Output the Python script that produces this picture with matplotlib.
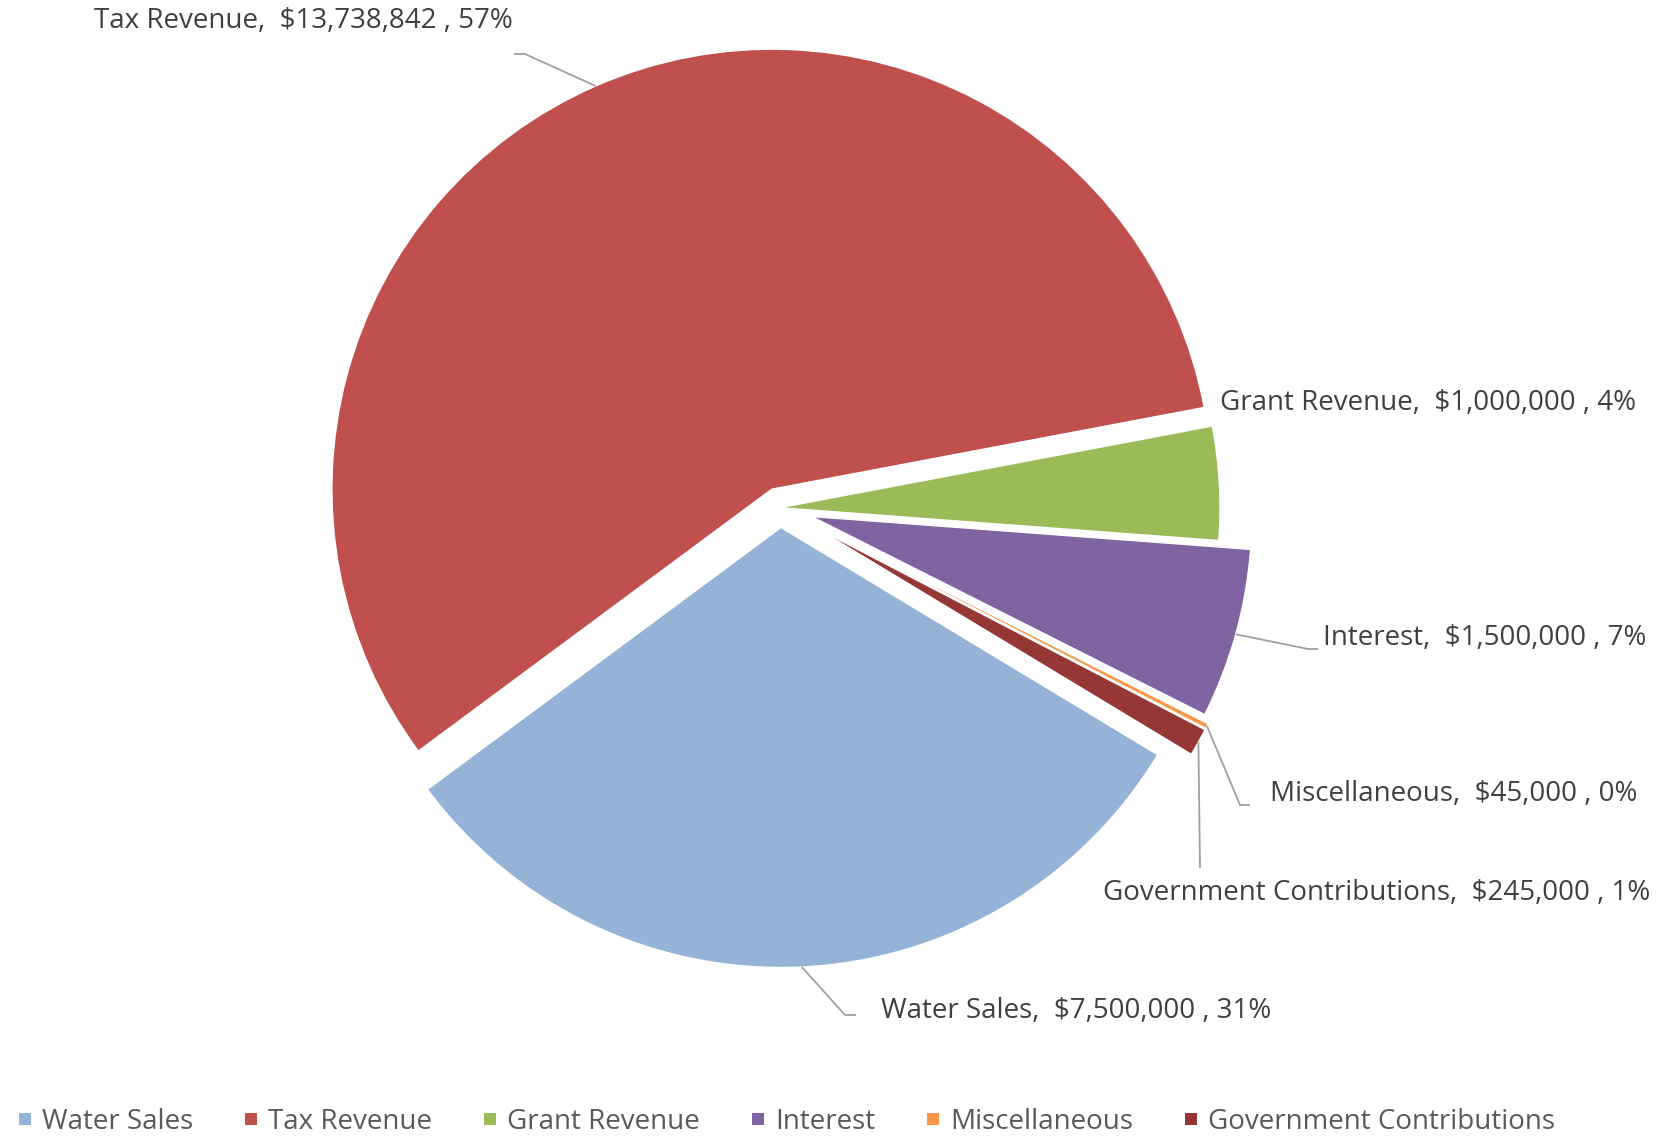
import numpy as np
import matplotlib
matplotlib.use("Agg")
import matplotlib.pyplot as plt
from matplotlib.lines import Line2D

plt.rcParams['font.family'] = ['Open Sans', 'DejaVu Sans']

# Revenue sources
categories = ['Water Sales', 'Tax Revenue', 'Grant Revenue', 'Interest',
              'Miscellaneous', 'Government Contributions']
amounts = [7500000, 13738842, 1000000, 1500000, 45000, 245000]
pct_labels = ['31%', '57%', '4%', '7%', '0%', '1%']

colors = ['#95B3D7', '#C0504D', '#9BBB59', '#8064A2', '#F79646', '#953735']
explode = [0.045, 0.046, 0.0, 0.075, 0.09, 0.09]

W, H = 1678, 1136
CX, CY, RAD = 780.0, 507.7, 440.0


def px(x, y):
    # pixel position (from top-left) -> data coordinates
    return (x - CX) / RAD, (CY - y) / RAD


fig = plt.figure(figsize=(W / 100, H / 100), dpi=100)
ax = fig.add_axes([0, 0, 1, 1])

wedges, _ = ax.pie(amounts, colors=colors, startangle=328.9, counterclock=False,
                   explode=explode, radius=1.0,
                   wedgeprops=dict(linewidth=1.0, edgecolor='white'))

ax.set_xlim(-CX / RAD, (W - CX) / RAD)
ax.set_ylim((CY - H) / RAD, CY / RAD)
ax.set_aspect('equal')
ax.axis('off')

# label anchor (left, middle) and leader path in pixels: elbow, then end near label
label_pos = [(881, 1011), (94, 21), (1220, 403), (1323, 638), (1270, 794), (1103, 893)]
leaders = [[(845, 1015), (856, 1015)],
           [(525, 54), (514, 54)],
           None,
           [(1308, 649), (1318, 649)],
           [(1240, 805), (1250, 805)],
           [(1200, 868)]]

text_color = '#404040'
line_color = '#A0A0A0'

for w, name, amt, pct, pos, path in zip(wedges, categories, amounts, pct_labels,
                                        label_pos, leaders):
    ax.text(*px(*pos), f"{name},  ${amt:,} , {pct}", fontsize=20,
            color=text_color, ha='left', va='center')
    if path is None:
        continue
    mid = np.deg2rad((w.theta1 + w.theta2) / 2)
    x0 = w.center[0] + w.r * np.cos(mid)
    y0 = w.center[1] + w.r * np.sin(mid)
    pts = [(x0, y0)] + [px(*p) for p in path]
    xs, ys = zip(*pts)
    ax.plot(xs, ys, color=line_color, lw=1.3, solid_capstyle='butt')

handles = [Line2D([], [], marker='s', linestyle='', markersize=8,
                  markerfacecolor=c, markeredgewidth=0) for c in colors]
fig.legend(handles, categories, loc='center', bbox_to_anchor=(787 / W, 1 - 1122 / H),
           ncol=6, frameon=False, fontsize=20, labelcolor='#595959',
           handlelength=0.45, handletextpad=0.4, columnspacing=1.85, borderpad=0)

fig.savefig('out.png', dpi=100)
